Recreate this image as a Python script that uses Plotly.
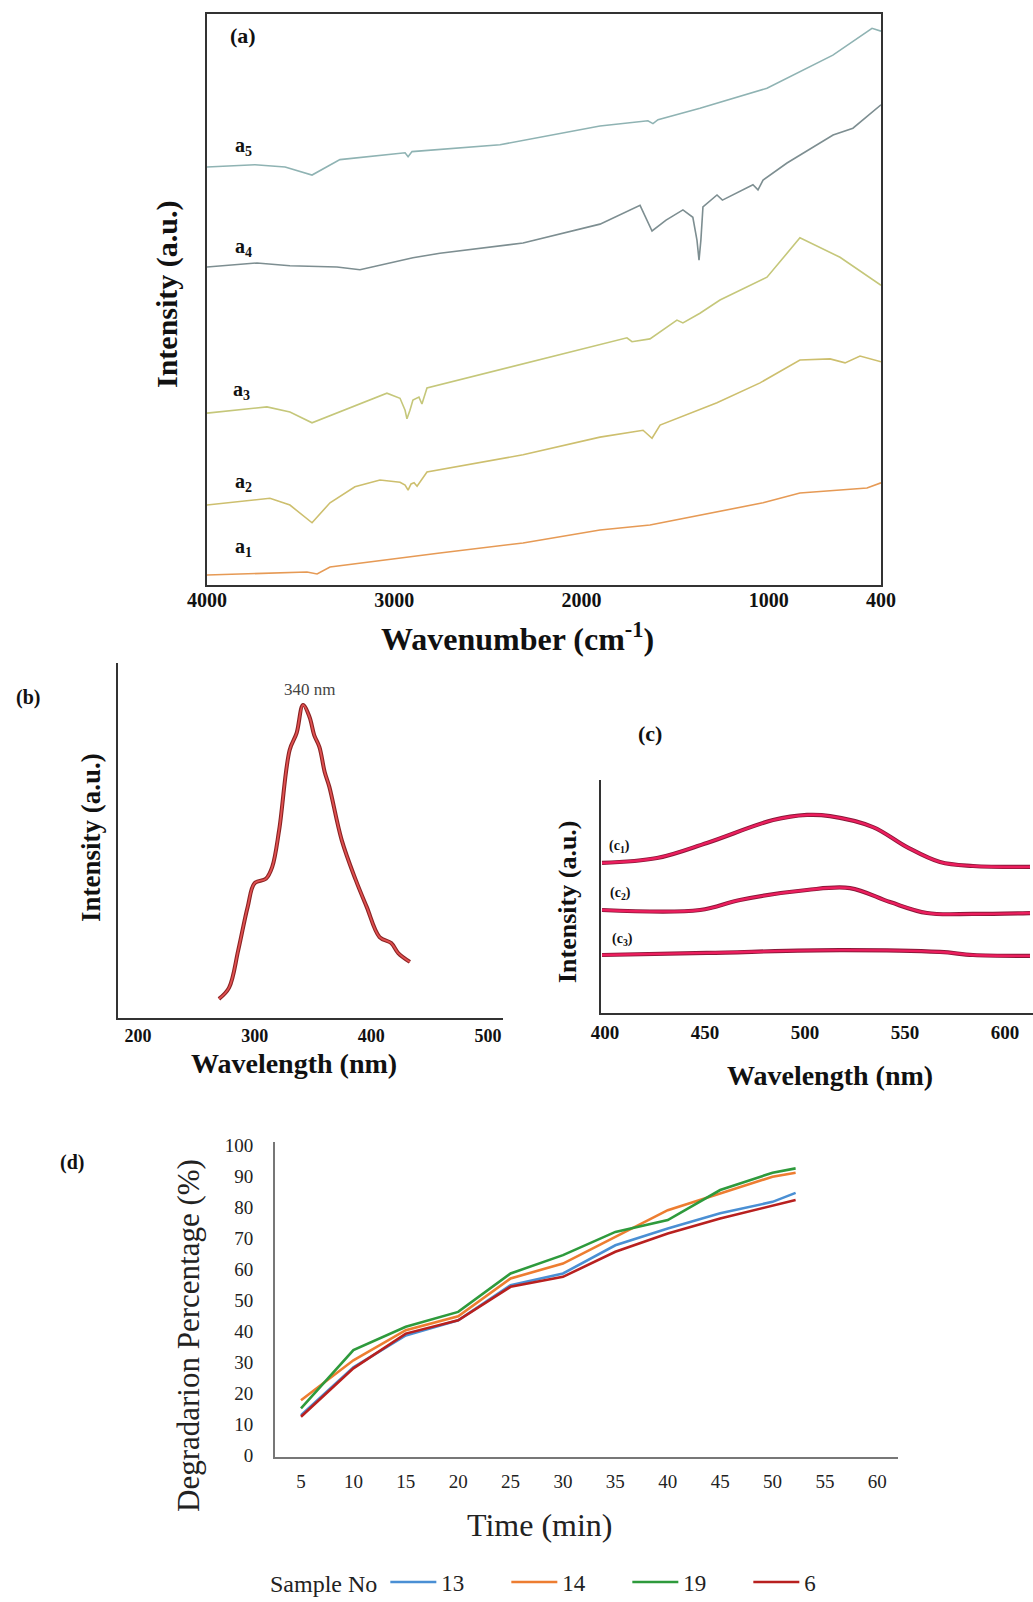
import plotly.graph_objects as go

W, H = 1033, 1602
SERIF = "Liberation Serif, Times New Roman, serif"

# ---------------- Panel (a): FTIR spectra ----------------
a5_wn = [4000, 3744, 3583, 3439, 3290, 3023, 2942, 2926, 2905, 2435, 1901, 1645, 1618, 1591, 1367, 1009, 657, 448, 400]
a5_int = [73.2, 73.6, 73.2, 71.8, 74.5, 75.4, 75.7, 75.0, 75.9, 77.1, 80.4, 81.3, 80.8, 81.5, 83.5, 87.0, 92.8, 97.5, 97.0]

a4_wn = [4000, 3733, 3557, 3306, 3183, 3023, 2900, 2756, 2312, 1901, 1687, 1623, 1548, 1458, 1405, 1383, 1372,
         1362, 1351, 1276, 1247, 1084, 1057, 1030, 902, 656, 550, 400]
a4_int = [55.7, 56.4, 55.9, 55.7, 55.2, 56.4, 57.3, 58.1, 59.9, 63.2, 66.5, 62.0, 63.9, 65.7, 64.4, 60.4, 56.9,
          60.4, 66.2, 68.3, 67.4, 70.1, 69.2, 70.9, 73.9, 78.8, 80.0, 84.1]

a3_wn = [4000, 3680, 3557, 3439, 3039, 2969, 2942, 2932, 2916, 2900, 2868, 2852, 2825, 1901, 1757, 1730, 1634,
         1490, 1458, 1367, 1260, 1009, 833, 619, 400]
a3_int = [30.1, 31.2, 30.3, 28.4, 33.6, 32.7, 30.6, 29.1, 30.6, 32.4, 32.9, 31.7, 34.5, 42.0, 43.3, 42.6, 43.1,
          46.4, 45.9, 47.6, 49.9, 53.9, 60.8, 57.4, 52.5]

a2_wn = [4000, 3664, 3557, 3439, 3343, 3210, 3076, 2969, 2942, 2926, 2910, 2894, 2878, 2825, 2312, 1901, 1671,
         1623, 1580, 1276, 1046, 833, 672, 592, 512, 400]
a2_int = [14.0, 15.2, 14.0, 10.9, 14.4, 17.2, 18.4, 18.0, 17.5, 16.6, 17.7, 17.9, 17.3, 19.8, 22.8, 25.9, 27.1,
          25.7, 28.0, 31.9, 35.4, 39.4, 39.6, 38.9, 40.1, 39.1]

a1_wn = [4000, 3466, 3412, 3343, 2756, 2312, 1901, 1634, 1030, 833, 475, 400]
a1_int = [1.75, 2.28, 1.93, 3.15, 5.6, 7.36, 9.63, 10.5, 14.4, 16.1, 17.0, 17.9]

a_ticks = [4000, 3000, 2000, 1000, 400]

# ---------------- Panel (b): excitation spectrum ----------------
b_wl = [269.4, 278, 286, 294, 300, 309.6, 315, 321, 330, 336, 341.4, 347, 351, 355.5, 360, 364, 374.6,
        386.6, 396, 407, 417, 423, 433]
b_int = [5.4, 8.5, 19.2, 31.3, 38.0, 39.2, 42.5, 53.0, 75.5, 80.3, 88.2, 84.8, 79.7, 76.3, 69.3, 65.1, 50.1,
         38.9, 31.3, 22.8, 21.1, 18.3, 15.8]
b_ticks = [200, 300, 400, 500]

# ---------------- Panel (c): emission spectra ----------------
c1_wl = [398.5, 426, 451, 484, 501, 512.5, 534, 551, 567.5, 584, 612.5]
c1_int = [64.4, 66.5, 73.0, 82.8, 85.0, 84.5, 79.8, 71.2, 64.8, 63.1, 62.7]
c2_wl = [398.5, 447.5, 467.5, 501, 522.5, 542.5, 561, 584, 612.5]
c2_int = [44.2, 44.2, 48.5, 52.8, 53.6, 47.6, 42.9, 42.5, 42.9]
c3_wl = [398.5, 451, 517.5, 567.5, 584, 612.5]
c3_int = [24.9, 25.8, 27.0, 26.2, 24.9, 24.5]
c_ticks = [400, 450, 500, 550, 600]

# ---------------- Panel (d): degradation ----------------
time_min = [5, 10, 15, 20, 25, 30, 35, 40, 45, 50, 52.2]
s13 = [12.9, 28.3, 38.6, 43.5, 54.8, 58.6, 67.7, 73.1, 78.0, 81.7, 84.6]
s14 = [17.7, 30.6, 40.3, 44.8, 57.0, 61.8, 70.4, 79.0, 84.4, 89.8, 91.1]
s19 = [15.1, 33.9, 41.4, 46.2, 58.6, 64.5, 72.0, 75.8, 85.5, 91.1, 92.5]
s6 = [12.4, 28.0, 39.2, 43.5, 54.3, 57.5, 65.6, 71.5, 76.3, 80.6, 82.3]
d_xticks = [5, 10, 15, 20, 25, 30, 35, 40, 45, 50, 55, 60]
d_yticks = [0, 10, 20, 30, 40, 50, 60, 70, 80, 90, 100]


def px(x, y):
    return x / W, 1 - y / H


fig = go.Figure()

# (a)
for wn, it, col in [(a1_wn, a1_int, "#e69a55"), (a2_wn, a2_int, "#cdbf6e"), (a3_wn, a3_int, "#c5c77a"),
                    (a4_wn, a4_int, "#7d8e91"), (a5_wn, a5_int, "#8fb3b3")]:
    fig.add_trace(go.Scatter(x=wn, y=it, mode="lines", line=dict(color=col, width=1.6),
                             xaxis="x", yaxis="y", showlegend=False, hoverinfo="skip"))

# (b)
fig.add_trace(go.Scatter(x=b_wl, y=b_int, mode="lines", line=dict(color="#8a2323", width=4, shape="spline"),
                         xaxis="x2", yaxis="y2", showlegend=False))
fig.add_trace(go.Scatter(x=b_wl, y=b_int, mode="lines", line=dict(color="#e05050", width=1.8, shape="spline"),
                         xaxis="x2", yaxis="y2", showlegend=False))

# (c)
for wl, it in [(c1_wl, c1_int), (c2_wl, c2_int), (c3_wl, c3_int)]:
    fig.add_trace(go.Scatter(x=wl, y=it, mode="lines", line=dict(color="#8a1838", width=4.2, shape="spline"),
                             xaxis="x3", yaxis="y3", showlegend=False))
    fig.add_trace(go.Scatter(x=wl, y=it, mode="lines", line=dict(color="#ec1e5e", width=2.4, shape="spline"),
                             xaxis="x3", yaxis="y3", showlegend=False))

# (d)
for name, vals, col in [("13", s13, "#4a8fd4"), ("14", s14, "#ed7d31"), ("19", s19, "#2e9a3c"), ("6", s6, "#b8201f")]:
    fig.add_trace(go.Scatter(x=time_min, y=vals, mode="lines", name=name, line=dict(color=col, width=2.6),
                             xaxis="x4", yaxis="y4"))

bold_tick = dict(family=SERIF, size=20, color="#111", weight="bold")
line_common = dict(showgrid=False, zeroline=False, ticks="", linecolor="#333", linewidth=2, showline=True,
                   automargin=False)

fig.update_layout(
    width=W, height=H, autosize=False,
    margin=dict(l=0, r=0, t=0, b=0, pad=0, autoexpand=False),
    paper_bgcolor="white", plot_bgcolor="white",
    font=dict(family=SERIF, color="#111"),
    xaxis=dict(domain=[207 / W, 881 / W], anchor="y", range=[4000, 400], tickvals=a_ticks,
               tickfont=bold_tick, mirror=True, ticklabelstandoff=-4, **line_common),
    yaxis=dict(domain=[1 - 585 / H, 1 - 14 / H], anchor="x", range=[0, 100], showticklabels=False,
               mirror=True, **line_common),
    xaxis2=dict(domain=[118 / W, 503 / W], anchor="y2", range=[182.9, 512.8], tickvals=b_ticks,
                tickfont=dict(family=SERIF, size=18, color="#111", weight="bold"), ticklabelstandoff=0,
                **line_common),
    yaxis2=dict(domain=[1 - 1018 / H, 1 - 663 / H], anchor="x2", range=[0, 100], showticklabels=False,
                **line_common),
    xaxis3=dict(domain=[601 / W, 1.0], anchor="y3", range=[398, 614], tickvals=c_ticks,
                tickfont=dict(family=SERIF, size=19, color="#111", weight="bold"), ticklabelstandoff=1,
                **line_common),
    yaxis3=dict(domain=[1 - 1013 / H, 1 - 780 / H], anchor="x3", range=[0, 100], showticklabels=False,
                **line_common),
    xaxis4=dict(domain=[275 / W, 898 / W], anchor="y4", range=[2.52, 61.97], tickvals=d_xticks,
                tickfont=dict(family=SERIF, size=19, color="#222"), ticklabelstandoff=6,
                showgrid=False, zeroline=False, ticks="", showline=True, linecolor="#777", linewidth=2,
                automargin=False),
    yaxis4=dict(domain=[1 - 1457 / H, 1 - 1142 / H], anchor="x4", range=[-0.6, 101], tickvals=d_yticks,
                tickfont=dict(family=SERIF, size=19, color="#222"), ticklabelstandoff=16,
                showgrid=False, zeroline=False, ticks="", showline=True, linecolor="#777", linewidth=2,
                automargin=False),
    legend=dict(orientation="h", x=268 / W, xanchor="left", y=1 - 1582 / H, yanchor="middle",
                title=dict(text="Sample No", side="left",
                           font=dict(family=SERIF, size=24, color="#222")),
                font=dict(family=SERIF, size=23, color="#222"), entrywidth=60, entrywidthmode="pixels",
                itemwidth=46, bgcolor="rgba(0,0,0,0)"),
)

ann = []


def add_text(x, y, text, size, bold=True, angle=0, color="#111"):
    xp, yp = px(x, y)
    t = f"<b>{text}</b>" if bold else text
    ann.append(dict(x=xp, y=yp, xref="paper", yref="paper", text=t, showarrow=False,
                    xanchor="center", yanchor="middle", textangle=angle,
                    font=dict(family=SERIF, size=size, color=color)))


# panel (a) texts
add_text(243, 35, "(a)", 22)
add_text(243, 146, "a<sub>5</sub>", 20)
add_text(243, 247, "a<sub>4</sub>", 20)
add_text(241, 390, "a<sub>3</sub>", 20)
add_text(243, 482, "a<sub>2</sub>", 20)
add_text(243, 548, "a<sub>1</sub>", 20)
add_text(517, 637, "Wavenumber (cm<sup>-1</sup>)", 32)
add_text(167, 294, "Intensity (a.u.)", 30, angle=-90)

# panel (b) texts
add_text(28, 697, "(b)", 20)
add_text(309, 689, "340 nm", 17, bold=False, color="#444")
add_text(91, 838, "Intensity (a.u.)", 27, angle=-90)
add_text(294, 1063, "Wavelength (nm)", 28)

# panel (c) texts
add_text(650, 733, "(c)", 22)
add_text(619, 847, "(c<sub>1</sub>)", 14)
add_text(620, 893, "(c<sub>2</sub>)", 14)
add_text(622, 939, "(c<sub>3</sub>)", 14)
add_text(567, 902, "Intensity (a.u.)", 26, angle=-90)
add_text(830, 1075, "Wavelength (nm)", 28)

# panel (d) texts
add_text(72, 1162, "(d)", 20)
add_text(188, 1336, "Degradarion Percentage (%)", 31, bold=False, angle=-90, color="#222")
add_text(540, 1525, "Time (min)", 32, bold=False, color="#222")

fig.update_layout(annotations=ann)

fig.write_html("out.html", config={"displayModeBar": False},
               post_script="document.body.style.margin='0';document.body.style.overflow='hidden';")
